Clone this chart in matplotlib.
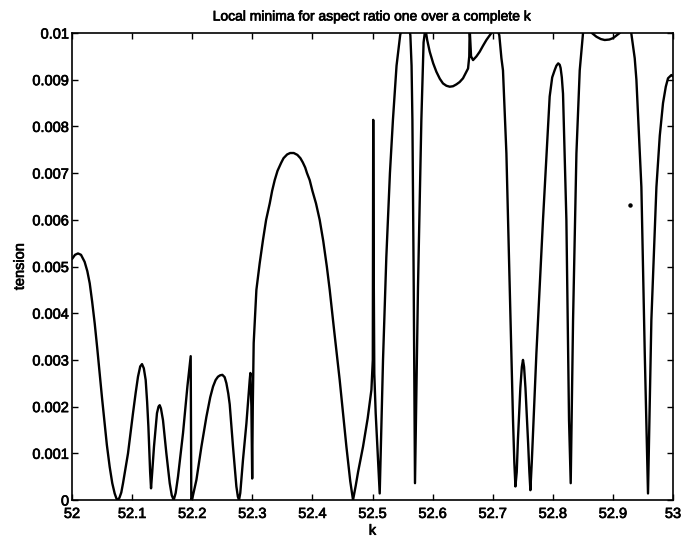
import matplotlib
matplotlib.use("Agg")
import matplotlib.pyplot as plt
import matplotlib.patheffects as pe

plt.rcParams['font.family'] = ['Liberation Sans', 'DejaVu Sans']

# Curve (k, tension)
k_values = [
    52.000, 52.005, 52.010, 52.015, 52.021, 52.0255, 52.0295, 52.0335, 52.0378, 52.042,
    52.046, 52.050, 52.0544, 52.058, 52.0627, 52.067, 52.071, 52.0740, 52.0765, 52.0790,
    52.0820, 52.0849, 52.0932, 52.1015, 52.1060, 52.1098, 52.1135, 52.1165, 52.1195, 52.1226,
    52.1250, 52.1271, 52.1300, 52.1315, 52.1335, 52.1364, 52.1414, 52.1440, 52.1459, 52.1480,
    52.1514, 52.1570, 52.1626, 52.1660, 52.1692, 52.1725, 52.1764, 52.1847, 52.1920, 52.1965,
    52.1975, 52.1980, 52.1985, 52.2003, 52.2070, 52.2153, 52.2236, 52.2300, 52.2347, 52.2390,
    52.2429, 52.2465, 52.2502, 52.2540, 52.2569, 52.2600, 52.2624, 52.2679, 52.2735, 52.2760,
    52.2779, 52.2800, 52.2845, 52.2902, 52.2957, 52.2968, 52.2985, 52.2998, 52.3008, 52.3023,
    52.3068, 52.3123, 52.3178, 52.3230, 52.3290, 52.3330, 52.3373, 52.3420, 52.3480, 52.3520,
    52.3580, 52.3630, 52.3690, 52.3750, 52.3800, 52.3840, 52.3880, 52.3910, 52.3955, 52.4000,
    52.4060, 52.4121, 52.4180, 52.4240, 52.4288, 52.4360, 52.4454, 52.4510, 52.4566, 52.4630,
    52.4676, 52.4720, 52.4760, 52.4842, 52.4920, 52.4982, 52.5005, 52.5012, 52.5020, 52.5030,
    52.5053, 52.5090, 52.5120, 52.5175, 52.5230, 52.5290, 52.5340, 52.5400, 52.5460, 52.5500,
    52.5550, 52.5600, 52.5630, 52.5650, 52.5664, 52.5686, 52.5707, 52.5757, 52.5813, 52.5850,
    52.5880, 52.5910, 52.5952, 52.6010, 52.6063, 52.6120, 52.6173, 52.6230, 52.6285, 52.6340,
    52.6396, 52.6450, 52.6506, 52.6590, 52.6610, 52.6617, 52.6625, 52.6640, 52.6673, 52.6730,
    52.6784, 52.6840, 52.6895, 52.6978, 52.7050, 52.7110, 52.7145, 52.7171, 52.7228, 52.7283,
    52.7338, 52.7360, 52.7378, 52.7400, 52.7420, 52.7460, 52.7485, 52.7504, 52.7522, 52.7545,
    52.7590, 52.7610, 52.7627, 52.7650, 52.7727, 52.7837, 52.7948, 52.7990, 52.8030, 52.8060,
    52.8090, 52.8115, 52.8130, 52.8150, 52.8170, 52.8226, 52.8270, 52.8298, 52.8337, 52.8393,
    52.8448, 52.8503, 52.8580, 52.8650, 52.8726, 52.8800, 52.8864, 52.8940, 52.9002, 52.9113,
    52.9200, 52.9300, 52.9363, 52.9391, 52.9418, 52.9474, 52.9530, 52.9584, 52.9640, 52.9724,
    52.9780, 52.9834, 52.9880, 52.9917, 52.9973, 53.0000,
]
tension_values = [
    0.00516, 0.00525, 0.00528, 0.00525, 0.00510, 0.00490, 0.00464, 0.00425, 0.00378, 0.00325,
    0.00271, 0.00218, 0.00164, 0.00118, 0.00071, 0.00036, 0.00014, 0.00003, 0.00000, 0.00005,
    0.00016, 0.00036, 0.00100, 0.00186, 0.00230, 0.00264, 0.00286, 0.00291, 0.00282, 0.00257,
    0.00210, 0.00157, 0.00060, 0.00025, 0.00060, 0.00114, 0.00186, 0.00200, 0.00203, 0.00196,
    0.00171, 0.00100, 0.00036, 0.00010, 0.00000, 0.00015, 0.00050, 0.00143, 0.00243, 0.00295,
    0.00308, 0.00150, 0.00000, 0.00004, 0.00043, 0.00114, 0.00178, 0.00220, 0.00243, 0.00257,
    0.00264, 0.00267, 0.00268, 0.00263, 0.00250, 0.00228, 0.00205, 0.00114, 0.00029, 0.00007,
    0.00000, 0.00015, 0.00086, 0.00164, 0.00257, 0.00272, 0.00200, 0.00046, 0.00200, 0.00336,
    0.00450, 0.00507, 0.00557, 0.00600, 0.00635, 0.00662, 0.00685, 0.00705, 0.00722, 0.00732,
    0.00740, 0.00743, 0.00743, 0.00739, 0.00732, 0.00723, 0.00712, 0.00700, 0.00685, 0.00662,
    0.00635, 0.00600, 0.00555, 0.00500, 0.00450, 0.00365, 0.00257, 0.00185, 0.00114, 0.00040,
    0.00000, 0.00030, 0.00060, 0.00114, 0.00175, 0.00236, 0.00300, 0.00814, 0.00500, 0.00270,
    0.00186, 0.00090, 0.00014, 0.00300, 0.00520, 0.00700, 0.00814, 0.00930, 0.00995, 0.01020,
    0.01030, 0.01020, 0.00995, 0.00930, 0.00814, 0.00457, 0.00036, 0.00457, 0.00814, 0.00980,
    0.01010, 0.00985, 0.00960, 0.00935, 0.00917, 0.00902, 0.00892, 0.00887, 0.00885, 0.00886,
    0.00890, 0.00895, 0.00903, 0.00924, 0.00950, 0.01010, 0.00990, 0.00950, 0.00942, 0.00950,
    0.00960, 0.00973, 0.00985, 0.01000, 0.01020, 0.00995, 0.00946, 0.00920, 0.00742, 0.00457,
    0.00171, 0.00080, 0.00029, 0.00060, 0.00130, 0.00240, 0.00285, 0.00300, 0.00285, 0.00240,
    0.00120, 0.00060, 0.00021, 0.00080, 0.00314, 0.00600, 0.00864, 0.00905, 0.00920, 0.00930,
    0.00935, 0.00932, 0.00925, 0.00905, 0.00870, 0.00600, 0.00171, 0.00036, 0.00385, 0.00742,
    0.00920, 0.01000, 0.01020, 0.01000, 0.00992, 0.00987, 0.00985, 0.00986, 0.00989, 0.01000,
    0.01020, 0.01005, 0.00946, 0.00900, 0.00824, 0.00670, 0.00314, 0.00014, 0.00385, 0.00670,
    0.00780, 0.00850, 0.00885, 0.00903, 0.00910, 0.00907,
]
# Isolated stray point
dot_k = [52.928]
dot_tension = [0.00632]

x_ticks = [52, 52.1, 52.2, 52.3, 52.4, 52.5, 52.6, 52.7, 52.8, 52.9, 53]
x_tick_labels = ['52', '52.1', '52.2', '52.3', '52.4', '52.5', '52.6', '52.7', '52.8', '52.9', '53']
y_ticks = [0, 0.001, 0.002, 0.003, 0.004, 0.005, 0.006, 0.007, 0.008, 0.009, 0.01]
y_tick_labels = ['0', '0.001', '0.002', '0.003', '0.004', '0.005', '0.006', '0.007', '0.008', '0.009', '0.01']

W, H = 683, 543
fig = plt.figure(figsize=(W / 100, H / 100), dpi=100)
ax = fig.add_axes([72 / W, 1 - 500 / H, 601 / W, 467 / H])

ax.plot(k_values, tension_values, color='black', linewidth=1.7,
        solid_joinstyle='round', solid_capstyle='round')
ax.plot(dot_k, dot_tension, 'o', color='black', markersize=2.2)

ax.set_xlim(52, 53)
ax.set_ylim(0, 0.01)
ax.set_xticks(x_ticks)
ax.set_xticklabels(x_tick_labels)
ax.set_yticks(y_ticks)
ax.set_yticklabels(y_tick_labels)
ax.tick_params(direction='in', top=True, right=True, length=4, width=1,
               labelsize=10.5)
ax.tick_params(axis='x', pad=5)
ax.tick_params(axis='y', pad=2)
for s in ax.spines.values():
    s.set_linewidth(1.2)

ax.set_xlabel('k', fontsize=10.5, labelpad=2)
ax.set_ylabel('tension', fontsize=10.5, labelpad=4)
ax.set_title('Local minima for aspect ratio one over a complete k', fontsize=10, pad=9)

# Slightly heavier text strokes, like the printed original
heavy = [pe.withStroke(linewidth=0.5, foreground='black')]
for t in ax.get_xticklabels() + ax.get_yticklabels() + [ax.xaxis.label, ax.yaxis.label, ax.title]:
    t.set_path_effects(heavy)

fig.savefig('out.png', dpi=100)
